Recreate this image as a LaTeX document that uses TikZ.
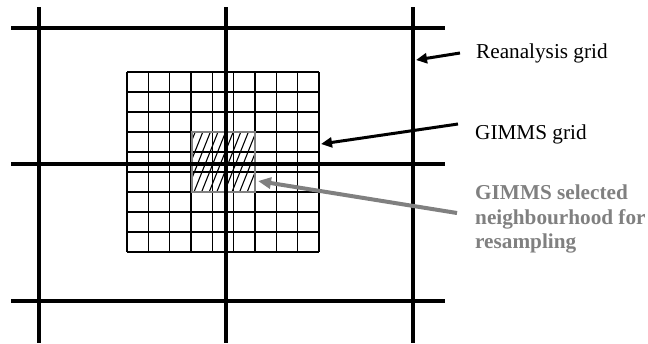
\documentclass[tikz,border=0pt]{standalone}
\usepackage{fontspec}
\setmainfont{Liberation Serif}
\usetikzlibrary{arrows.meta}
\definecolor{selgray}{RGB}{128,128,128}
\begin{document}
\begin{tikzpicture}[x=1bp,y=-1bp,
  thickline/.style={line width=3.6bp,black},
  thinline/.style={line width=1.2bp,black},
  hatchline/.style={line width=1.1bp,black},
  selbox/.style={draw=selgray,line width=2.2bp},
  lbl/.style={inner sep=0pt,font=\fontsize{21.3}{24.5}\selectfont,text=black},
  graylbl/.style={inner sep=0pt,font=\fontsize{21.3}{24.5}\selectfont\bfseries,text=selgray,align=left},
  blackarrow/.style={line width=3bp,black,-{Triangle[length=11bp,width=10bp]}},
  grayarrow/.style={line width=4bp,selgray,-{Triangle[length=13bp,width=11bp]}}]
\useasboundingbox (0,0) rectangle (648,343);
% fine GIMMS grid
\foreach \i in {0,...,9} {
  \draw[thinline] ({127+\i*21.333},72) -- ({127+\i*21.333},252);
  \draw[thinline] (127,{72+\i*20}) -- (319,{72+\i*20});
}
% hatching of the selected neighbourhood
\begin{scope}
  \clip (192,132) rectangle (255,192);
  \foreach \k in {-4,...,9} {
    \draw[hatchline] ({194+\k*7.6},192) -- ++(24,-60);
  }
\end{scope}
\node[selbox,minimum width=63bp,minimum height=60bp,inner sep=0pt] (sel) at (223.5,162) {};
% reanalysis grid
\foreach \x in {39,226,413} {
  \draw[thickline] (\x,7) -- (\x,343);
}
\foreach \y in {28,164,301} {
  \draw[thickline] (11,\y) -- (445,\y);
}
% labels
\node[lbl,anchor=base west] (rean) at (476,58) {Reanalysis grid};
\node[lbl,anchor=base west] (gimms) at (475,139) {GIMMS grid};
\node[graylbl,anchor=north west] (neigh) at (475,185) {GIMMS selected\\neighbourhood for\\resampling};
% arrows
\coordinate (reantail) at (460,53);
\coordinate (reanhead) at (416,60);
\coordinate (gimmstail) at (458,124);
\coordinate (gimmshead) at (321,144);
\coordinate (neightail) at (457,213);
\coordinate (neighhead) at (258,181);
\draw[blackarrow] (reantail) -- (reanhead);
\draw[blackarrow] (gimmstail) -- (gimmshead);
\draw[grayarrow] (neightail) -- (neighhead);
\end{tikzpicture}
\end{document}
